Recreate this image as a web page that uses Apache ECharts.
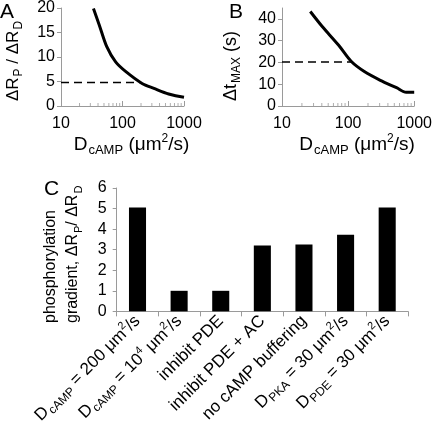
<!DOCTYPE html>
<html><head><meta charset="utf-8">
<script src="https://cdn.jsdelivr.net/npm/echarts@6/dist/echarts.min.js"></script>
<style>html,body{margin:0;padding:0;background:#fff}#c{width:435px;height:428px}</style>
</head><body><div id="c"></div>
<script>
// Panel A: ΔRP/ΔRD vs DcAMP
const aD = [33.7, 42, 55.5, 77.3, 113.5, 208, 324, 563, 1000];
const aRatio = [19.9, 16.5, 12.1, 9.0, 7.0, 4.6, 3.6, 2.45, 1.8];
const aDashD = [10, 200];
const aDashVal = [4.8, 4.8];
// Panel B: ΔtMAX vs DcAMP
const bD = [26.8, 40.6, 71.5, 112, 176, 307, 540, 755, 1000];
const bT = [43.4, 36.5, 28, 20.4, 15.8, 11.8, 8.4, 6.3, 6.3];
const bDashD = [10, 115];
const bDashVal = [20.2, 20.2];
// log-axis minor tick positions
const minorTicks = [20, 30, 40, 50, 60, 70, 80, 90, 200, 300, 400, 500, 600, 700, 800, 900];
// Panel C
const cCategories = ['D_{cAMP} = 200 μm^{2}/s', 'D_{cAMP} = 10^{4} μm^{2}/s', 'inhibit PDE', 'inhibit PDE + AC', 'no cAMP buffering', 'D_{PKA} = 30 μm^{2}/s', 'D_{PDE} = 30 μm^{2}/s'];
const cValues = [5.05, 1.0, 1.0, 3.2, 3.25, 3.73, 5.05];

const FONT = "'Liberation Sans', Arial, sans-serif";
function toRich(s) {
  return s.replace(/_\{([^}]*)\}/g, '{sub|$1}').replace(/\^\{([^}]*)\}/g, '{sup|$1}');
}
function richSet(base) {
  return {
    sub: { fontSize: Math.round(base * 0.68), fontFamily: FONT, color: '#000', verticalAlign: 'bottom', lineHeight: Math.round(base * 0.68), padding: [0, 0, 0, 1] },
    sup: { fontSize: Math.round(base * 0.62), fontFamily: FONT, color: '#000', verticalAlign: 'top', lineHeight: Math.round(base * 0.62) }
  };
}
const AX = '#9a9a9a';
function logX(gi) {
  return {
    type: 'log', gridIndex: gi, min: 10, max: 1000, logBase: 10,
    axisLine: { lineStyle: { color: AX } },
    axisTick: { inside: true, length: 5, lineStyle: { color: AX } },
    splitLine: { show: false },
    axisLabel: {
      fontSize: 16, fontFamily: FONT, color: '#000', margin: 10,
      formatter: v => String(Math.round(v))
    },
    name: toRich('D_{cAMP} (μm^{2}/s)'), nameLocation: 'middle', nameGap: 27,
    nameTextStyle: { fontSize: 19, fontFamily: FONT, color: '#000', lineHeight: 24, padding: [0, 0, 0, 18], rich: richSet(19) }
  };
}
function valY(gi, max, interval, name, gap, fs, pad, margin) {
  return {
    type: 'value', gridIndex: gi, min: 0, max: max, interval: interval,
    axisLine: { show: true, lineStyle: { color: AX } },
    axisTick: { show: true, length: 4, lineStyle: { color: AX } },
    splitLine: { show: false },
    axisLabel: { fontSize: 16, fontFamily: FONT, color: '#000', margin: margin || 6, showMaxLabel: max % interval === 0 },
    name: name ? toRich(name) : '', nameLocation: 'middle', nameRotate: 90, nameGap: gap || 30,
    nameTextStyle: { fontSize: fs || 18, fontFamily: FONT, color: '#000', lineHeight: 24, padding: pad || 0, rich: richSet(fs || 18) }
  };
}
const lineStyleMain = { color: '#000', width: 3 };
const dashStyle = { color: '#000', width: 1.5, type: [8, 5] };
const zip = (xs, ys) => xs.map((x, i) => [x, ys[i]]);

const option = {
  animation: false,
  backgroundColor: '#fff',
  grid: [
    { left: 45, top: 8, width: 139, height: 98 },
    { left: 282, top: 8, width: 136.5, height: 98 },
    { left: 116.7, top: 188, width: 291.3, height: 127.7 }
  ],
  xAxis: [
    logX(0),
    logX(1),
    {
      type: 'category', gridIndex: 2, data: cCategories,
      axisLine: { lineStyle: { color: AX } },
      axisTick: { show: true, alignWithLabel: false, interval: 0, length: 5, lineStyle: { color: AX } },
      axisLabel: {
        interval: 0, rotate: 45, fontSize: 17, fontFamily: FONT, color: '#000', margin: 7, lineHeight: 22,
        formatter: v => toRich(v), rich: richSet(17)
      }
    }
  ],
  yAxis: [
    valY(0, 20, 5, 'ΔR_{P} / ΔR_{D}', 36, 17, [0, 8, 0, 0]),
    valY(1, 45, 10, 'Δt_{MAX} (s)', 39, 18, [0, 18, 0, 0]),
    valY(2, 6, 1, '', 30, 16, 0, 10)
  ],
  series: [
    { type: 'line', xAxisIndex: 0, yAxisIndex: 0, data: zip(aD, aRatio), smooth: 0.3, showSymbol: false, lineStyle: lineStyleMain },
    { type: 'line', xAxisIndex: 0, yAxisIndex: 0, data: zip(aDashD, aDashVal), showSymbol: false, lineStyle: dashStyle },
    { type: 'scatter', xAxisIndex: 0, yAxisIndex: 0, data: minorTicks.map(v => [v, 0]), symbol: 'rect', symbolSize: [1, 3], symbolOffset: [0, -1.5], itemStyle: { color: AX }, clip: false, silent: true },
    { type: 'line', xAxisIndex: 1, yAxisIndex: 1, data: zip(bD, bT), smooth: 0.3, showSymbol: false, lineStyle: lineStyleMain },
    { type: 'line', xAxisIndex: 1, yAxisIndex: 1, data: zip(bDashD, bDashVal), showSymbol: false, lineStyle: dashStyle },
    { type: 'scatter', xAxisIndex: 1, yAxisIndex: 1, data: minorTicks.map(v => [v, 0]), symbol: 'rect', symbolSize: [1, 3], symbolOffset: [0, -1.5], itemStyle: { color: AX }, clip: false, silent: true },
    { type: 'bar', xAxisIndex: 2, yAxisIndex: 2, data: cValues, barWidth: '41%', itemStyle: { color: '#000' } }
  ],
  graphic: [
    { type: 'text', x: 0, y: 2, style: { text: 'A', font: "21px 'Liberation Sans', Arial", fill: '#000' } },
    { type: 'text', x: 229, y: 2, style: { text: 'B', font: "21px 'Liberation Sans', Arial", fill: '#000' } },
    { type: 'text', x: 44, y: 179, style: { text: 'C', font: "21px 'Liberation Sans', Arial", fill: '#000' } },
    {
      type: 'text', x: 40, y: 323, rotation: Math.PI / 2,
      style: {
        text: 'phosphorylation\n' + toRich('gradient, ΔR_{P}/ ΔR_{D}'),
        font: "16px 'Liberation Sans', Arial", fill: '#000', align: 'left', verticalAlign: 'top', lineHeight: 22,
        rich: richSet(16)
      }
    }
  ]
};
const chart = echarts.init(document.getElementById('c'), null, { renderer: 'canvas' });
chart.setOption(option);
</script></body></html>
